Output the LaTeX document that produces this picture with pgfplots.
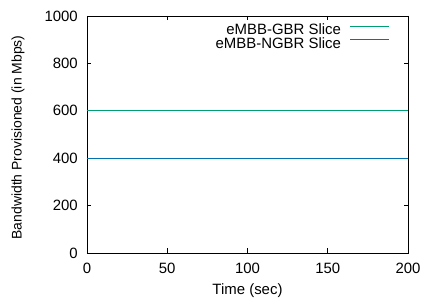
\documentclass[border=0pt]{standalone}
\usepackage{fontspec}
\setmainfont{Liberation Sans}
\usepackage{pgfplots}
\pgfplotsset{compat=1.18}
\usetikzlibrary{calc}
\definecolor{gbr}{HTML}{009E73}
\definecolor{ngbr}{HTML}{0072B2}
\begin{document}
\begin{tikzpicture}
\begin{axis}[
  name=ax,
  scale only axis,
  width=321bp, height=237bp,
  xmin=0, xmax=200, ymin=0, ymax=1000,
  xtick={0,50,100,150,200},
  ytick={0,200,400,600,800,1000},
  tick align=inside,
  major tick length=4.5bp,
  minor tick num=0,
  axis line style={black, line width=0.8bp},
  every tick/.style={black, line width=0.6bp},
  font=\fontsize{15}{17}\selectfont,
  /pgf/number format/assume math mode=true,
  /pgf/number format/1000 sep={},
  yticklabel style={inner sep=0pt, xshift=-9bp},
  xticklabel style={inner sep=0pt, yshift=-10bp},
  xlabel={Time (sec)},
  ylabel={Bandwidth Provisioned (in Mbps)},
  xlabel style={at={(axis description cs:0.5,0)}, anchor=base, yshift=-41bp, inner sep=0pt},
  ylabel style={at={($(axis description cs:0,0.5)+(-69bp,-3bp)$)}, anchor=center, inner sep=0pt, font=\fontsize{14}{16}\selectfont},
  legend style={draw=none, fill=none, at={(axis description cs:1,1)}, anchor=north east, xshift=-18bp, yshift=-8.5bp, inner sep=0pt, row sep=0pt, column sep=9bp,
    nodes={inner sep=0pt, text height=10bp, text depth=3.5bp},
    font=\fontsize{15}{17}\selectfont},
  legend cell align=right,
  legend plot pos=right,
  legend image code/.code={\draw[#1] (0bp,5.2bp) -- (39bp,5.2bp);},
]
\addplot[color=gbr, line width=0.8bp] coordinates {(0,600) (200,600)};
\addlegendentry{eMBB-GBR Slice}
\addplot[color=ngbr, line width=0.8bp] coordinates {(0,400) (200,400)};
\addlegendentry{eMBB-NGBR Slice}
\end{axis}
\useasboundingbox ($(ax.south west)+(-87bp,-46bp)$) rectangle ($(ax.north east)+(16bp,16bp)$);
\end{tikzpicture}
\end{document}
